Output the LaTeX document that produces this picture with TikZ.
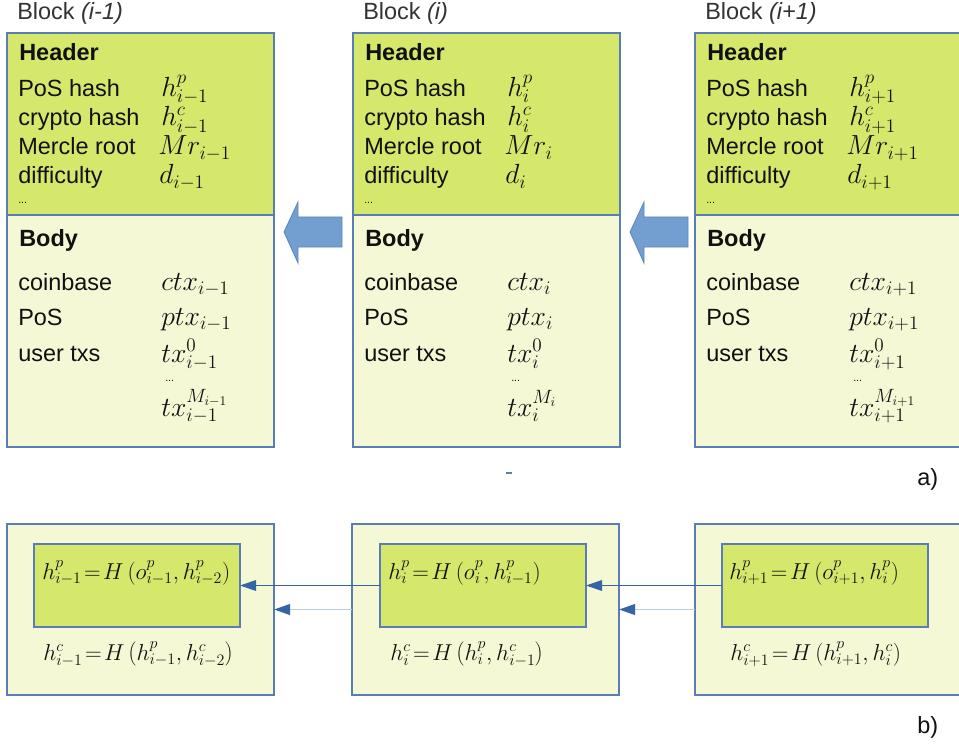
\documentclass[tikz,border=0pt]{standalone}
\usepackage{fontspec}
\setmainfont{Liberation Sans}
\usetikzlibrary{arrows.meta}
\definecolor{hdrgreen}{HTML}{D5E86B}
\definecolor{bodyyel}{HTML}{F5F8D5}
\definecolor{edge}{HTML}{5A7DB5}
\definecolor{arrowfill}{HTML}{729FCF}
\definecolor{arrowedge}{HTML}{5A86C0}
\definecolor{darkline}{HTML}{3465A4}
\definecolor{lightline}{HTML}{BCCDE2}
\definecolor{txtcol}{HTML}{111111}
\tikzset{
  boxbase/.style={draw=edge, line width=0.9pt, inner sep=0pt, outer sep=0pt, anchor=north west},
  hdr/.style={boxbase, fill=hdrgreen, minimum width=200.25pt, minimum height=136.5pt},
  bdy/.style={boxbase, fill=bodyyel, minimum width=200.25pt, minimum height=174pt},
  outerbox/.style={boxbase, fill=bodyyel, minimum width=200.25pt, minimum height=128.25pt},
  innerbox/.style={boxbase, fill=hdrgreen, minimum width=154.5pt, minimum height=62.25pt},
  txt/.style={anchor=base west, inner sep=0pt, text=txtcol, font=\fontsize{17.6}{20}\selectfont},
  bold/.style={txt, font=\fontsize{17.6}{20}\selectfont\bfseries},
  lbl/.style={txt, text=black!80},
  mth/.style={anchor=base west, inner sep=0pt, text=txtcol, font=\fontsize{19.5}{22}\selectfont},
  dots/.style={anchor=base west, inner sep=0pt, text=txtcol, font=\fontsize{8}{9}\selectfont},
  frm/.style={anchor=base west, inner sep=0pt, text=txtcol, font=\fontsize{17.5}{20}\selectfont},
  bigarrow/.style={fill=arrowfill, draw=arrowedge, line width=0.6pt},
  darkarrow/.style={draw=darkline, line width=0.8pt, -{Triangle[length=12pt,width=8pt]}},
  lightarrow/.style={draw=lightline, line width=1.4pt, -{Triangle[length=12pt,width=8pt,color=darkline,fill=darkline]}}
}
\begin{document}
\begin{tikzpicture}[x=0.75pt,y=-0.75pt]
\useasboundingbox (0,0) rectangle (959,745);
\clip (0,0) rectangle (959,745);

% ---------- part a) ----------
\foreach \k/\X/\lab/\s/\ms in {1/0/i-1/i-1/{M_{i-1}}, 2/346/i/i/{M_i}, 3/688/i+1/i+1/{M_{i+1}}}{
  \begin{scope}[shift={(\X,0)}]
    \node[lbl] (blab\k) at (17,20) {Block \textit{(\lab)}};
    \node[hdr] (hdr\k) at (7,33) {};
    \node[bdy] (bdy\k) at (7,215) {};
    \node[bold] (hh\k) at (19,61) {Header};
    \node[txt] (t1\k) at (18,97) {PoS hash};
    \node[txt] (t2\k) at (18,126) {crypto hash};
    \node[txt] (t3\k) at (18,155) {Mercle root};
    \node[txt] (t4\k) at (18,184) {difficulty};
    \node[dots] (t5\k) at (18,204) {...};
    \node[mth] (m1\k) at (161,97) {$h^{p}_{\s}$};
    \node[mth] (m2\k) at (161,126) {$h^{c}_{\s}$};
    \node[mth] (m3\k) at (158,155) {$Mr_{\s}$};
    \node[mth] (m4\k) at (159,184) {$d_{\s}$};
    \node[bold] (bb\k) at (19,246) {Body};
    \node[txt] (b1\k) at (18,290) {coinbase};
    \node[txt] (b2\k) at (18,325) {PoS};
    \node[txt] (b3\k) at (18,361) {user txs};
    \node[mth] (n1\k) at (161,290) {$ctx_{\s}$};
    \node[mth] (n2\k) at (161,325) {$ptx_{\s}$};
    \node[mth] (n3\k) at (161,362) {$tx^{0}_{\s}$};
    \node[dots] (n4\k) at (165,381) {...};
    \node[mth] (n5\k) at (161,416) {$tx^{\ms}_{\s}$};
  \end{scope}
}

% block arrows
\draw[bigarrow] (284,232) -- (298,202) -- (298,217) -- (342,217) -- (342,247) -- (298,247) -- (298,263) -- cycle;
\draw[bigarrow] (630,232) -- (644,202) -- (644,217) -- (688,217) -- (688,247) -- (644,247) -- (644,263) -- cycle;

% small mark
\draw[edge, line width=1pt] (506,473) -- (512,473);

\node[txt] (la) at (917,485) {a)};

% ---------- part b) ----------
\node[outerbox] (out1) at (7,524) {};
\node[outerbox] (out2) at (352,524) {};
\node[outerbox] (out3) at (695,524) {};
\node[innerbox] (in1) at (34,544) {};
\node[innerbox] (in2) at (380,544) {};
\node[innerbox] (in3) at (722,544) {};

\node[frm] (f1p) at (42,579) {$h^{p}_{i-1}\!=\!H\left(o^{p}_{i-1},h^{p}_{i-2}\right)$};
\node[frm] (f1c) at (43,660) {$h^{c}_{i-1}\!=\!H\left(h^{p}_{i-1},h^{c}_{i-2}\right)$};
\node[frm] (f2p) at (388,579) {$h^{p}_{i}\!=\!H\left(o^{p}_{i},h^{p}_{i-1}\right)$};
\node[frm] (f2c) at (390,660) {$h^{c}_{i}\!=\!H\left(h^{p}_{i},h^{c}_{i-1}\right)$};
\node[frm] (f3p) at (729,579) {$h^{p}_{i+1}\!=\!H\left(o^{p}_{i+1},h^{p}_{i}\right)$};
\node[frm] (f3c) at (730,660) {$h^{c}_{i+1}\!=\!H\left(h^{p}_{i+1},h^{c}_{i}\right)$};

\draw[darkarrow] (in2.west) -- (in1.east);
\draw[darkarrow] (in3.west) -- (in2.east);
\draw[lightarrow] (out2.west) -- (out1.east);
\draw[lightarrow] (out3.west) -- (out2.east);

\node[txt] (lb) at (917,733) {b)};
\end{tikzpicture}
\end{document}
